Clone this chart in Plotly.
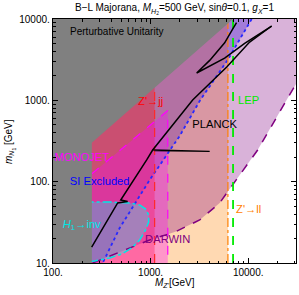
import plotly.graph_objects as go

# ---------------- data (GeV) ----------------
# Perturbative unitarity (grey, opaque)
grey_M = [100, 250, 250, 7000, 100]
grey_m = [10, 10, 300, 10000, 10000]

# SI excluded (blue) boundary, from top to bottom
si_M = [10860, 6161, 3184, 1987, 979, 482, 323]
si_m = [10000, 3135, 982, 365, 105, 26.9, 10]

# DARWIN (purple) boundary
dw_M = [255, 482, 979, 1766, 3184, 5101, 7265, 12510, 24750, 31300]
dw_m = [10, 13.6, 19.2, 24.0, 33.8, 54.7, 99, 245, 1009, 1633]

# Z'->ll (orange) bound, LEP (green), Z'->jj (red) bound
zll_M = 6200
lep_M = 7000
zjj_M = 1100

# MONOJET (magenta) region
mono_M = [250, 250, 1500, 1500]
mono_m = [10, 125, 750, 10]

# H1 -> inv (cyan) region
hinv_M = [211, 381, 611, 773, 890, 956, 956, 890, 773, 640, 506, 381, 267, 211]
hinv_m = [56.2, 56.2, 54.7, 51.7, 46.1, 38.9, 31.9, 25.5, 19.2, 15.3, 12.9, 11.5, 10.6, 10.3]

# Relic density (PLANCK) contour pieces
k1_M = [249, 460, 582, 494, 912, 1050, 2698, 6030, 10350, 17400]
k1_m = [15.7, 54.7, 57.0, 59.5, 185, 245, 1009, 2570, 5200, 8200]
k2_M = [1050, 4033, 4033, 1090]
k2_m = [246, 240, 236, 241]
k3_M = [17400, 9200, 5741, 2965, 4033, 5741, 6930, 7600]
k3_m = [8200, 5000, 3300, 2168, 3100, 5100, 7500, 9000]

XMIN, XMAX = 100, 31000
YMIN, YMAX = 10, 10000

FONT = "Liberation Sans, Arial, sans-serif"

fig = go.Figure()

def poly(xs, ys, color):
    fig.add_trace(go.Scatter(x=xs, y=ys, mode="lines", fill="toself", fillcolor=color,
                             line=dict(width=0), hoverinfo="skip", showlegend=False))

def line(xs, ys, color, dash="solid", width=1.5):
    fig.add_trace(go.Scatter(x=xs, y=ys, mode="lines", line=dict(color=color, dash=dash, width=width),
                             hoverinfo="skip", showlegend=False))

# blue SI region (left of dotted line)
poly(si_M + [XMIN, XMIN], si_m + [YMIN, YMAX], "rgba(0,0,255,0.3)")
# orange Z'->ll region
poly([XMIN, zll_M, zll_M, XMIN], [YMIN, YMIN, YMAX, YMAX], "rgba(255,128,0,0.3)")
# purple DARWIN region (above dashed curve)
poly(dw_M + [XMAX, XMAX, XMIN, XMIN], dw_m + [dw_m[-1], YMAX, YMAX, YMIN], "rgba(128,0,128,0.3)")
# red Z'->jj region
poly([XMIN, zjj_M, zjj_M, XMIN], [YMIN, YMIN, YMAX, YMAX], "rgba(255,0,0,0.3)")
# magenta MONOJET
poly(mono_M, mono_m, "rgba(255,0,255,0.3)")
# cyan H1->inv
poly(hinv_M, hinv_m, "rgba(0,255,255,0.3)")

# boundary lines
line(si_M, si_m, "rgb(40,40,255)", "dot", 1.8)
line(dw_M, dw_m, "rgb(128,0,128)", "dash", 1.5)
line([zll_M, zll_M], [YMIN, YMAX], "rgb(255,128,0)", "dashdot", 1.2)
line([lep_M, lep_M], [YMIN, YMAX], "rgb(0,235,0)", "dash", 1.8)
line([zjj_M, zjj_M], [YMIN, YMAX], "rgb(255,40,40)", "dash", 1.2)
line([mono_M[1], mono_M[2], mono_M[3]], [mono_m[1], mono_m[2], mono_m[3]], "rgb(255,0,255)", "dash", 1.2)
line(hinv_M, hinv_m, "rgb(0,230,230)", "dashdot", 1.5)

# grey perturbative unitarity
poly(grey_M, grey_m, "rgb(128,128,128)")

# relic density contour
line(k1_M, k1_m, "black", "solid", 1.5)
line(k2_M, k2_m, "black", "solid", 1.3)
line(k3_M, k3_m, "black", "solid", 1.5)

# labels
lab_x = [450, 1002, 10110, 4540, 197, 301, 197, 1497, 10110]
lab_y = [6730, 955, 982, 498, 196, 99, 29.3, 19.2, 44.8]
lab_t = ["Perturbative Unitarity", "Z'→jj", "LEP", "PLANCK", "MONOJET", "SI Excluded",
         "<i>H</i><sub>1</sub>→inv", "DARWIN", "Z'→ll"]
lab_c = ["black", "red", "rgb(0,235,0)", "black", "magenta", "blue", "rgb(0,230,230)",
         "rgb(128,0,128)", "rgb(255,128,0)"]
lab_s = [10, 11.2, 11.2, 11.2, 11.2, 11.2, 11.2, 11.2, 11.2]
for x, y, t, c, s in zip(lab_x, lab_y, lab_t, lab_c, lab_s):
    fig.add_trace(go.Scatter(x=[x], y=[y], mode="text", text=[t],
                             textfont=dict(color=c, size=s, family=FONT),
                             hoverinfo="skip", showlegend=False, cliponaxis=False))

axis_common = dict(
    type="log", showgrid=False, zeroline=False, showline=True, linecolor="black", linewidth=1.2,
    mirror="ticks", ticks="inside", ticklen=5, tickwidth=1, tickcolor="black",
    dtick=1, tickformat="d", ticksuffix=".",
    tickfont=dict(family=FONT, size=10, color="black"),
    minor=dict(ticks="inside", ticklen=2.5, tickcolor="black", dtick="D1", showgrid=False),
)

fig.update_layout(
    width=299, height=295,
    margin=dict(l=53, r=3, t=19, b=32),
    paper_bgcolor="white", plot_bgcolor="white",
    xaxis=dict(range=[2, 4.49], **axis_common),
    yaxis=dict(range=[1, 4], **axis_common),
    title=dict(text="B−L Majorana, <i>M</i><sub><i>H</i><sub>2</sub></sub>=500 GeV, sin<i>θ</i>=0.1, <i>g</i><sub><i>X</i></sub>=1",
               x=0.5, xref="paper", y=0.973, yref="container", yanchor="middle",
               font=dict(family=FONT, size=10, color="black")),
    annotations=[
        dict(text="<i>M</i><sub><i>Z'</i></sub>[GeV]", x=0.5, y=-0.082, xref="paper", yref="paper",
             showarrow=False, yanchor="middle", font=dict(family=FONT, size=10, color="black")),
        dict(text="<i>m</i><sub><i>N</i><sub>1</sub></sub> [GeV]", x=-0.177, y=0.5, xref="paper", yref="paper",
             showarrow=False, textangle=-90, xanchor="center", font=dict(family=FONT, size=10, color="black")),
    ],
)

fig.write_html("out.html", config={"displayModeBar": False, "staticPlot": True},
               post_script="document.body.style.margin='0px';document.body.style.overflow='hidden';")
